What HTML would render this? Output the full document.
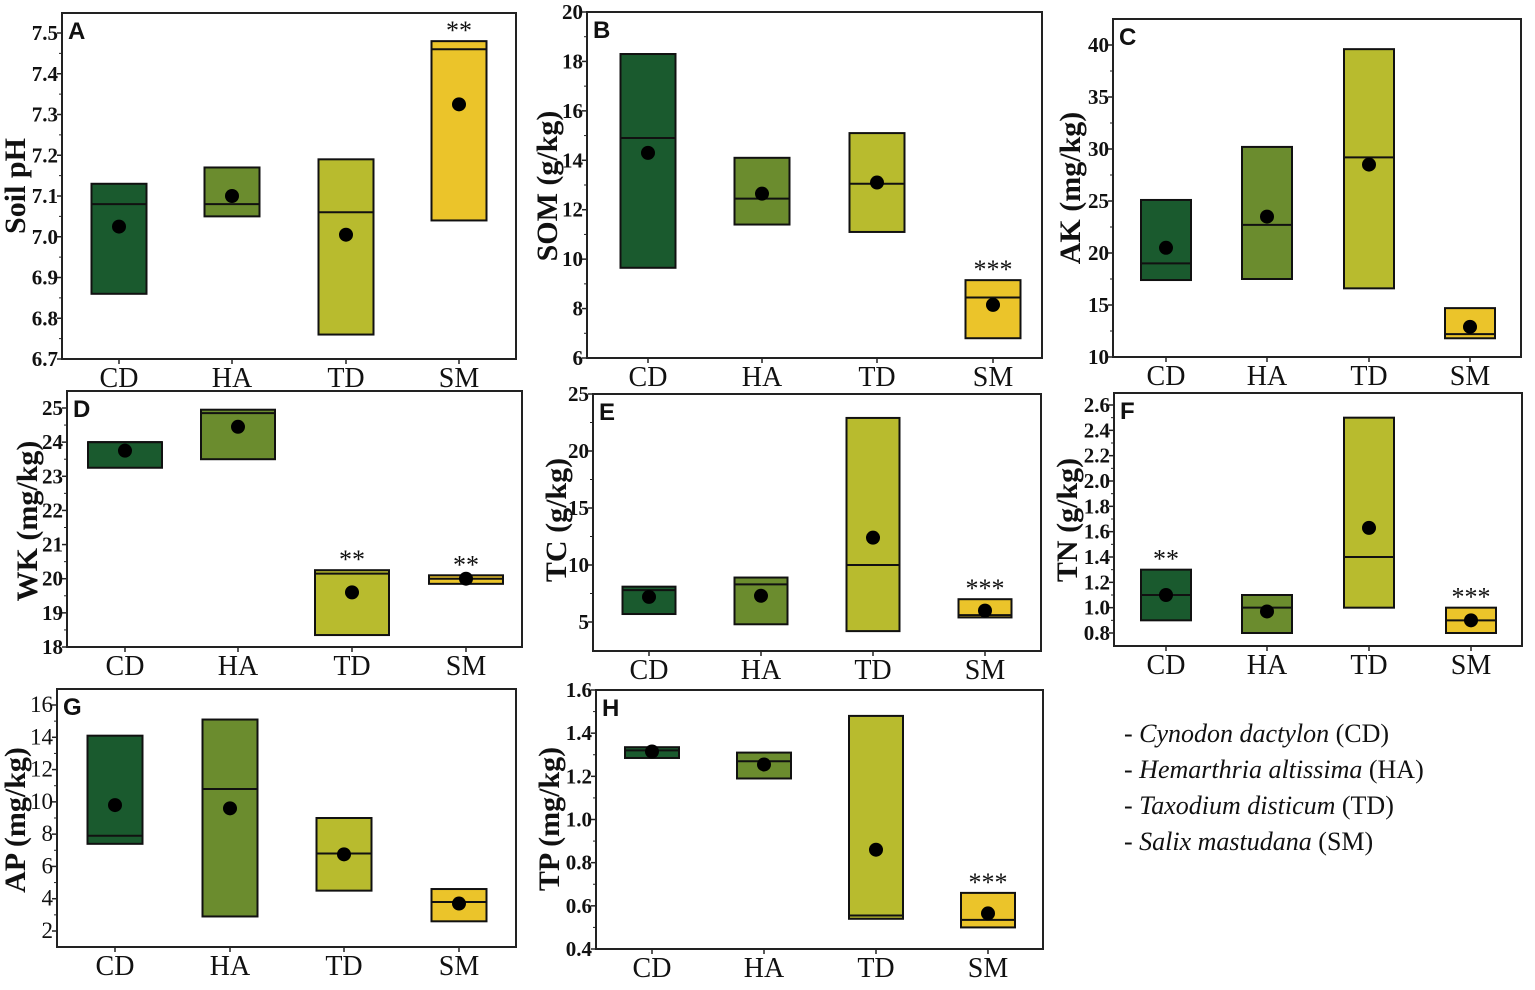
<!DOCTYPE html>
<html><head><meta charset="utf-8">
<style>
html,body{margin:0;padding:0;background:#fff;}
svg{display:block;}
svg text{font-family:"Liberation Serif","Times New Roman",serif;}
svg text.sans{font-family:"Liberation Sans",Arial,sans-serif;}
</style></head>
<body>
<svg id="fig" width="1535" height="990" viewBox="0 0 1535 990" xmlns="http://www.w3.org/2000/svg">
<g id="legend" font-size="26" fill="#111">
<text x="1124" y="742">- <tspan font-style="italic">Cynodon dactylon</tspan> (CD)</text>
<text x="1124" y="778">- <tspan font-style="italic">Hemarthria altissima</tspan> (HA)</text>
<text x="1124" y="814">- <tspan font-style="italic">Taxodium disticum</tspan> (TD)</text>
<text x="1124" y="850">- <tspan font-style="italic">Salix mastudana</tspan> (SM)</text>
</g>
</svg>
<script>
const categories = ["CD","HA","TD","SM"];
const colors = ["#1a5a2e","#6b8c2e","#b8bb2e","#ebc42a"];

const phLow = [6.86,7.05,6.76,7.04];
const phHigh = [7.13,7.17,7.19,7.48];
const phMedian = [7.08,7.08,7.06,7.46];
const phMean = [7.025,7.10,7.005,7.325];
const phStars = ["","","","**"];
const phTicks = ["6.7","6.8","6.9","7.0","7.1","7.2","7.3","7.4","7.5"];

const somLow = [9.65,11.4,11.1,6.8];
const somHigh = [18.3,14.1,15.1,9.15];
const somMedian = [14.9,12.45,13.05,8.45];
const somMean = [14.3,12.65,13.1,8.15];
const somStars = ["","","","***"];
const somTicks = ["6","8","10","12","14","16","18","20"];

const akLow = [17.4,17.5,16.6,11.8];
const akHigh = [25.1,30.2,39.6,14.7];
const akMedian = [19.0,22.7,29.2,12.2];
const akMean = [20.5,23.5,28.5,12.9];
const akStars = ["","","",""];
const akTicks = ["10","15","20","25","30","35","40"];

const wkLow = [23.25,23.5,18.35,19.85];
const wkHigh = [24.0,24.95,20.25,20.1];
const wkMedian = [24.0,24.85,20.15,20.0];
const wkMean = [23.75,24.45,19.6,20.0];
const wkStars = ["","","**","**"];
const wkTicks = ["18","19","20","21","22","23","24","25"];

const tcLow = [5.7,4.8,4.2,5.4];
const tcHigh = [8.1,8.9,22.9,7.0];
const tcMedian = [7.8,8.3,10.0,5.6];
const tcMean = [7.2,7.3,12.4,6.0];
const tcStars = ["","","","***"];
const tcTicks = ["5","10","15","20","25"];

const tnLow = [0.9,0.8,1.0,0.8];
const tnHigh = [1.3,1.1,2.5,1.0];
const tnMedian = [1.1,1.0,1.4,0.9];
const tnMean = [1.1,0.97,1.63,0.9];
const tnStars = ["**","","","***"];
const tnTicks = ["0.8","1.0","1.2","1.4","1.6","1.8","2.0","2.2","2.4","2.6"];

const apLow = [7.4,2.9,4.5,2.6];
const apHigh = [14.1,15.1,9.0,4.6];
const apMedian = [7.9,10.8,6.8,3.8];
const apMean = [9.8,9.6,6.75,3.7];
const apStars = ["","","",""];
const apTicks = ["2","4","6","8","10","12","14","16"];

const tpLow = [1.285,1.19,0.54,0.5];
const tpHigh = [1.335,1.31,1.48,0.66];
const tpMedian = [1.32,1.27,0.555,0.535];
const tpMean = [1.315,1.255,0.86,0.565];
const tpStars = ["","","","***"];
const tpTicks = ["0.4","0.6","0.8","1.0","1.2","1.4","1.6"];

const NS = "http://www.w3.org/2000/svg";
const svg = document.getElementById("fig");
function mk(tag, attrs, parent){
  const e = document.createElementNS(NS, tag);
  for (const k in attrs) e.setAttribute(k, attrs[k]);
  (parent||svg).appendChild(e);
  return e;
}

const panels = [
 {id:"a", letter:"A", title:"Soil pH", low:phLow, high:phHigh, med:phMedian, mean:phMean, stars:phStars, ticks:phTicks,
  fx0:62, fx1:516, fy0:13, fy1:359, vTop:7.5, yTop:33, vBot:6.7, yBot:359, cx:[119,232,346,459], bw:55, titleX:25, titleY:186, boldTicks:true},
 {id:"b", letter:"B", title:"SOM (g/kg)", low:somLow, high:somHigh, med:somMedian, mean:somMean, stars:somStars, ticks:somTicks,
  fx0:587, fx1:1042, fy0:12, fy1:358, vTop:20, yTop:12, vBot:6, yBot:358, cx:[648,762,877,993], bw:55, titleX:557, titleY:186, boldTicks:true},
 {id:"c", letter:"C", title:"AK (mg/kg)", low:akLow, high:akHigh, med:akMedian, mean:akMean, stars:akStars, ticks:akTicks,
  fx0:1113, fx1:1521, fy0:19, fy1:357, vTop:40, yTop:45, vBot:10, yBot:357, cx:[1166,1267,1369,1470], bw:50, titleX:1080, titleY:188, boldTicks:true},
 {id:"d", letter:"D", title:"WK (mg/kg)", low:wkLow, high:wkHigh, med:wkMedian, mean:wkMean, stars:wkStars, ticks:wkTicks,
  fx0:67, fx1:522, fy0:391, fy1:647, vTop:25, yTop:408, vBot:18, yBot:647, cx:[125,238,352,466], bw:74, titleX:37, titleY:521, boldTicks:true},
 {id:"e", letter:"E", title:"TC (g/kg)", low:tcLow, high:tcHigh, med:tcMedian, mean:tcMean, stars:tcStars, ticks:tcTicks,
  fx0:593, fx1:1041, fy0:394, fy1:651, vTop:25, yTop:394, vBot:5, yBot:622, cx:[649,761,873,985], bw:53, titleX:566, titleY:520, boldTicks:true},
 {id:"f", letter:"F", title:"TN (g/kg)", low:tnLow, high:tnHigh, med:tnMedian, mean:tnMean, stars:tnStars, ticks:tnTicks,
  fx0:1114, fx1:1522, fy0:393, fy1:646, vTop:2.6, yTop:405, vBot:0.8, yBot:633, cx:[1166,1267,1369,1471], bw:50, titleX:1077, titleY:520, boldTicks:true},
 {id:"g", letter:"G", title:"AP (mg/kg)", low:apLow, high:apHigh, med:apMedian, mean:apMean, stars:apStars, ticks:apTicks,
  fx0:57, fx1:516, fy0:689, fy1:947, vTop:16, yTop:705, vBot:2, yBot:931, cx:[115,230,344,459], bw:55, titleX:25, titleY:820, boldTicks:false},
 {id:"h", letter:"H", title:"TP (mg/kg)", low:tpLow, high:tpHigh, med:tpMedian, mean:tpMean, stars:tpStars, ticks:tpTicks,
  fx0:596, fx1:1043, fy0:690, fy1:949, vTop:1.6, yTop:690, vBot:0.4, yBot:949, cx:[652,764,876,988], bw:54, titleX:559, titleY:819, boldTicks:true}
];

panels.forEach(p => {
  const g = mk("g", {});
  
  
  const y = v => p.yBot + (v - p.vBot) * (p.yTop - p.yBot) / (p.vTop - p.vBot);

  const fr = mk("rect", {x:p.fx0, y:p.fy0, width:p.fx1-p.fx0, height:p.fy1-p.fy0, fill:"none", stroke:"#222", "stroke-width":2}, g);
  
  

  const tv = p.ticks.map(Number);
  const step = tv[1]-tv[0];
  tv.forEach((v,i) => {
    const ty = y(v);
    const tk = mk("line", {x1:p.fx0-5, x2:p.fx0, y1:ty, y2:ty, stroke:"#222", "stroke-width":1.5}, g);
    
    
    const lbl = mk("text", {x:p.fx0-4, y:ty+7, "text-anchor":"end", "font-size":p.boldTicks?21:23, "font-weight":p.boldTicks?"bold":"normal", fill:"#111"}, g);
    lbl.textContent = p.ticks[i];
    
    
    const my = y(v + step/2);
    if (my > p.fy0 + 1 && my < p.fy1 - 1) {
      const mt = mk("line", {x1:p.fx0-3, x2:p.fx0, y1:my, y2:my, stroke:"#222", "stroke-width":1}, g);
      
      
    }
  });

  const at = mk("text", {x:p.titleX, y:p.titleY, "text-anchor":"middle", "font-size":30, "font-weight":"bold", fill:"#111", transform:`rotate(-90 ${p.titleX} ${p.titleY})`}, g);
  at.textContent = p.title;
  
  

  const pl = mk("text", {x:p.fx0+6, y:p.fy0+26, "class":"sans", "font-size":24, "font-weight":"bold", fill:"#111"}, g);
  pl.textContent = p.letter;
  
  

  categories.forEach((c,i) => {
    const x = p.cx[i];
    const tk = mk("line", {x1:x, x2:x, y1:p.fy1, y2:p.fy1+5, stroke:"#222", "stroke-width":1.5}, g);
    
    
    const cl = mk("text", {x:x, y:p.fy1+28, "text-anchor":"middle", "font-size":28, fill:"#111"}, g);
    cl.textContent = c;
    
    

    const yt = y(p.high[i]), yb = y(p.low[i]);
    const box = mk("rect", {x:x-p.bw/2, y:yt, width:p.bw, height:yb-yt, fill:colors[i], stroke:"#111", "stroke-width":2}, g);
    
    
    const ym = y(p.med[i]);
    const ml = mk("line", {x1:x-p.bw/2, x2:x+p.bw/2, y1:ym, y2:ym, stroke:"#111", "stroke-width":2}, g);
    
    
    const dot = mk("circle", {cx:x, cy:y(p.mean[i]), r:7, fill:"#000"}, g);
    
    
    if (p.stars[i]) {
      const st = mk("text", {x:x, y:yt-2, "text-anchor":"middle", "font-size":26, fill:"#111"}, g);
      st.textContent = p.stars[i];
      
      
    }
  });
});
</script>
</body></html>
